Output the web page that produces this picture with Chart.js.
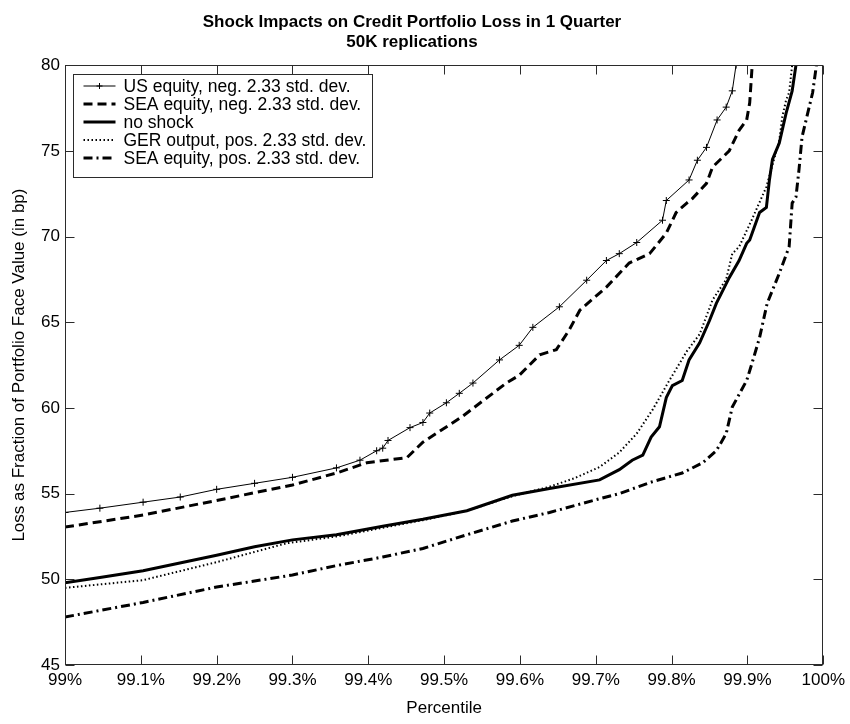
<!DOCTYPE html>
<html>
<head>
<meta charset="utf-8">
<title>Shock Impacts on Credit Portfolio Loss in 1 Quarter</title>
<script src="https://cdn.jsdelivr.net/npm/chart.js@4.4.1/dist/chart.umd.min.js"></script>
<style>
  html, body { margin: 0; padding: 0; background: #fff; }
  #wrap { width: 850px; height: 724px; }
</style>
</head>
<body>
<div id="wrap"><canvas id="lossChart" width="850" height="724"></canvas></div>
<script>
const FONT = "'Liberation Sans', Arial, Helvetica, sans-serif";

const chartTitle = ["Shock Impacts on Credit Portfolio Loss in 1 Quarter", "50K replications"];

const xTickValues = [99, 99.1, 99.2, 99.3, 99.4, 99.5, 99.6, 99.7, 99.8, 99.9, 100];
const xTickLabels = ["99%", "99.1%", "99.2%", "99.3%", "99.4%", "99.5%", "99.6%", "99.7%", "99.8%", "99.9%", "100%"];
const yTickValues = [45, 50, 55, 60, 65, 70, 75, 80];

const seriesLabels = [
    "US equity, neg. 2.33 std. dev.",
    "SEA equity, neg. 2.33 std. dev.",
    "no shock",
    "GER output, pos. 2.33 std. dev.",
    "SEA equity, pos. 2.33 std. dev."
];

// US equity, neg. shock
const usNegPct = [99.000, 99.046, 99.103, 99.152, 99.200, 99.250, 99.300, 99.358, 99.389, 99.411, 99.419, 99.426, 99.455, 99.472, 99.481, 99.503, 99.520, 99.538, 99.573, 99.599, 99.617, 99.652, 99.688, 99.714, 99.731, 99.754, 99.788, 99.793, 99.823, 99.834, 99.846, 99.860, 99.872, 99.880, 99.885];
const usNegLoss = [53.9, 54.15, 54.5, 54.8, 55.25, 55.6, 55.95, 56.5, 56.95, 57.5, 57.65, 58.1, 58.85, 59.15, 59.7, 60.3, 60.85, 61.45, 62.8, 63.65, 64.7, 65.9, 67.45, 68.6, 69.0, 69.65, 70.95, 72.1, 73.3, 74.45, 75.2, 76.8, 77.55, 78.5, 80];

// SEA equity, neg. shock
const seaNegPct = [99.000, 99.103, 99.200, 99.300, 99.358, 99.398, 99.451, 99.472, 99.524, 99.582, 99.599, 99.626, 99.648, 99.665, 99.679, 99.714, 99.744, 99.771, 99.793, 99.806, 99.820, 99.827, 99.846, 99.854, 99.876, 99.889, 99.899, 99.903, 99.906, 99.908];
const seaNegLoss = [53.05, 53.75, 54.6, 55.5, 56.2, 56.8, 57.1, 58.0, 59.5, 61.45, 61.9, 63.1, 63.4, 64.55, 65.7, 67.05, 68.45, 69.0, 70.2, 71.4, 71.95, 72.2, 73.1, 74.05, 75.0, 76.2, 76.8, 77.8, 79.8, 80];

// no shock
const basePct = [99.000, 99.046, 99.103, 99.200, 99.250, 99.300, 99.358, 99.419, 99.472, 99.530, 99.590, 99.639, 99.705, 99.731, 99.748, 99.762, 99.773, 99.784, 99.793, 99.801, 99.814, 99.823, 99.837, 99.850, 99.859, 99.876, 99.889, 99.899, 99.903, 99.916, 99.925, 99.929, 99.933, 99.942, 99.951, 99.959, 99.964];
const baseLoss = [49.8, 50.1, 50.5, 51.4, 51.9, 52.3, 52.6, 53.1, 53.5, 54.0, 54.9, 55.3, 55.8, 56.4, 56.95, 57.25, 58.3, 58.9, 60.6, 61.3, 61.6, 62.8, 63.8, 65.1, 66.1, 67.6, 68.6, 69.6, 69.8, 71.4, 71.7, 73.3, 74.5, 75.45, 77.2, 78.5, 80];

// GER output, pos. shock
const gerPosPct = [99.000, 99.103, 99.200, 99.292, 99.358, 99.419, 99.472, 99.530, 99.590, 99.639, 99.672, 99.705, 99.731, 99.754, 99.775, 99.797, 99.820, 99.837, 99.854, 99.872, 99.880, 99.889, 99.906, 99.925, 99.942, 99.946, 99.951, 99.955, 99.959];
const gerPosLoss = [49.5, 49.95, 51.0, 52.1, 52.5, 53.0, 53.45, 54.0, 54.85, 55.4, 55.9, 56.55, 57.4, 58.5, 59.9, 61.6, 63.3, 64.3, 66.3, 67.5, 69.0, 69.4, 71.0, 72.9, 75.6, 77.0, 77.96, 78.4, 80];

// SEA equity, pos. shock
const seaPosPct = [99.000, 99.103, 99.200, 99.300, 99.358, 99.419, 99.472, 99.530, 99.590, 99.639, 99.705, 99.731, 99.775, 99.814, 99.841, 99.859, 99.872, 99.880, 99.899, 99.906, 99.916, 99.926, 99.942, 99.955, 99.959, 99.964, 99.968, 99.972, 99.986, 99.991];
const seaPosLoss = [47.8, 48.65, 49.55, 50.25, 50.8, 51.3, 51.8, 52.6, 53.4, 53.9, 54.7, 55.0, 55.7, 56.2, 56.8, 57.5, 58.5, 60.05, 61.6, 62.6, 64.1, 66.1, 67.85, 69.4, 71.95, 72.3, 73.9, 75.8, 78.4, 80];


function toPoints(pct, loss) {

    return pct.map((x, i) => ({ x: x, y: loss[i] }));

}


// MATLAB-style box with inward ticks on all four sides
const frameTicks = {

    id: "frameTicks",

    afterDatasetsDraw(chart) {

        const { ctx, chartArea: a, scales } = chart;

        const left = Math.round(a.left) + 0.5;
        const right = Math.round(a.right) - 0.5;
        const top = Math.round(a.top) + 0.5;
        const bottom = Math.round(a.bottom) - 0.5;
        const len = 9;

        ctx.save();
        ctx.strokeStyle = "#2b2b2b";
        ctx.lineWidth = 1;
        ctx.setLineDash([]);
        ctx.strokeRect(left, top, right - left, bottom - top);

        ctx.beginPath();

        xTickValues.forEach(v => {
            const px = Math.round(scales.x.getPixelForValue(v)) + 0.5;
            ctx.moveTo(px, bottom);
            ctx.lineTo(px, bottom - len);
            ctx.moveTo(px, top);
            ctx.lineTo(px, top + len);
        });

        yTickValues.forEach(v => {
            const py = Math.round(scales.y.getPixelForValue(v)) + 0.5;
            ctx.moveTo(left, py);
            ctx.lineTo(left + len, py);
            ctx.moveTo(right, py);
            ctx.lineTo(right - len, py);
        });

        ctx.stroke();
        ctx.restore();

    }

};


// boxed legend inside the top-left corner of the plot
const boxLegend = {

    id: "boxLegend",

    afterDraw(chart) {

        const { ctx, chartArea: a } = chart;

        const boxX = Math.round(a.left) + 8.5;
        const boxY = Math.round(a.top) + 9.5;
        const boxW = 299;
        const boxH = 103;
        const rowH = 18;

        ctx.save();
        ctx.fillStyle = "#fff";
        ctx.fillRect(boxX, boxY, boxW, boxH);
        ctx.strokeStyle = "#2b2b2b";
        ctx.lineWidth = 1;
        ctx.setLineDash([]);
        ctx.strokeRect(boxX, boxY, boxW, boxH);

        ctx.font = "17.5px " + FONT;
        ctx.textBaseline = "middle";
        ctx.textAlign = "left";

        chart.data.datasets.forEach((ds, i) => {

            const y = boxY + 11.5 + i * rowH;
            const x0 = boxX + 10;
            const x1 = boxX + 42;

            ctx.strokeStyle = "#000";
            ctx.lineWidth = ds.borderWidth;
            ctx.setLineDash(ds.borderDash || []);
            ctx.beginPath();
            ctx.moveTo(x0, y);
            ctx.lineTo(x1, y);
            ctx.stroke();

            if (ds.pointStyle === "cross") {
                const cx = (x0 + x1) / 2;
                ctx.setLineDash([]);
                ctx.lineWidth = 1;
                ctx.beginPath();
                ctx.moveTo(cx - 3, y);
                ctx.lineTo(cx + 3, y);
                ctx.moveTo(cx, y - 3);
                ctx.lineTo(cx, y + 3);
                ctx.stroke();
            }

            ctx.fillStyle = "#000";
            ctx.fillText(ds.label, boxX + 50, y + 1);

        });

        ctx.restore();

    }

};


function renderLossChart() {

    const ctx = document.getElementById("lossChart").getContext("2d");

    const tickFont = { family: FONT, size: 17 };

    new Chart(ctx, {

        type: "line",

        data: {
            datasets: [
                {
                    label: seriesLabels[0],
                    data: toPoints(usNegPct, usNegLoss),
                    borderColor: "#000",
                    borderWidth: 1,
                    pointStyle: "cross",
                    pointRadius: 3.5,
                    pointBorderWidth: 1,
                    pointBorderColor: "#000"
                },
                {
                    label: seriesLabels[1],
                    data: toPoints(seaNegPct, seaNegLoss),
                    borderColor: "#000",
                    borderWidth: 3,
                    borderDash: [9, 5],
                    pointRadius: 0
                },
                {
                    label: seriesLabels[2],
                    data: toPoints(basePct, baseLoss),
                    borderColor: "#000",
                    borderWidth: 3,
                    pointRadius: 0
                },
                {
                    label: seriesLabels[3],
                    data: toPoints(gerPosPct, gerPosLoss),
                    borderColor: "#000",
                    borderWidth: 2,
                    borderDash: [1.5, 2.5],
                    pointRadius: 0
                },
                {
                    label: seriesLabels[4],
                    data: toPoints(seaPosPct, seaPosLoss),
                    borderColor: "#000",
                    borderWidth: 3,
                    borderDash: [9, 4, 2, 4],
                    pointRadius: 0
                }
            ]
        },

        options: {
            responsive: false,
            animation: false,
            layout: {
                padding: { left: 0, right: 26, top: 0, bottom: 0 }
            },
            plugins: {
                legend: { display: false },
                tooltip: { enabled: false },
                title: {
                    display: true,
                    text: chartTitle,
                    color: "#000",
                    font: { family: FONT, size: 17, weight: "bold", lineHeight: 1.18 },
                    padding: { top: 12, bottom: 13 }
                }
            },
            scales: {
                x: {
                    type: "linear",
                    min: 99,
                    max: 100,
                    afterBuildTicks: s => {
                        s.ticks = xTickValues.map(v => ({ value: v }));
                    },
                    afterFit: s => {
                        s.height = 59;
                    },
                    grid: { display: false, drawTicks: false },
                    border: { display: false },
                    ticks: {
                        color: "#000",
                        font: tickFont,
                        padding: 5,
                        maxRotation: 0,
                        autoSkip: false,
                        callback: (v, i) => xTickLabels[i]
                    },
                    title: {
                        display: true,
                        text: "Percentile",
                        color: "#000",
                        font: tickFont,
                        padding: { top: 0, bottom: 5 }
                    }
                },
                y: {
                    type: "linear",
                    min: 45,
                    max: 80,
                    afterBuildTicks: s => {
                        s.ticks = yTickValues.map(v => ({ value: v }));
                    },
                    afterFit: s => {
                        s.width = 65;
                    },
                    grid: { display: false, drawTicks: false },
                    border: { display: false },
                    ticks: {
                        color: "#000",
                        font: tickFont,
                        padding: 5
                    },
                    title: {
                        display: true,
                        text: "Loss as Fraction of Portfolio Face Value (in bp)",
                        color: "#000",
                        font: tickFont,
                        padding: { top: 9, bottom: 0 }
                    }
                }
            }
        },

        plugins: [frameTicks, boxLegend]

    });

}

renderLossChart();
</script>
</body>
</html>
